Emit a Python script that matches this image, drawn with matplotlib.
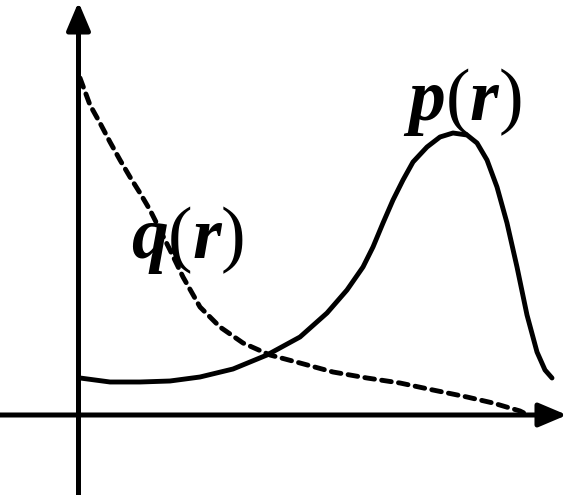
import matplotlib
matplotlib.use("Agg")
import matplotlib.pyplot as plt

plt.rcParams['mathtext.fontset'] = 'custom'
plt.rcParams['mathtext.it'] = 'Liberation Serif:italic:bold'
plt.rcParams['mathtext.rm'] = 'Liberation Serif'

# curve points (pixel coordinates, y downwards)
p_x = [80, 110, 140, 170, 200, 233, 267, 300, 327, 347, 363, 373, 383, 393,
       403, 413, 427, 440, 453, 467, 477, 487, 497, 507, 517, 527, 537, 545, 552]
p_y = [378, 382, 382, 381, 377, 369, 355, 337, 313, 290, 267, 247, 223, 200,
       180, 162, 147, 137, 133, 135, 143, 160, 187, 223, 267, 315, 352, 370, 378]

q_x = [80, 90, 100, 110, 120, 130, 140, 150, 160, 170, 183, 200, 220, 243,
       270, 300, 333, 367, 400, 433, 467, 493, 520, 530]
q_y = [78, 105, 123, 142, 160, 177, 193, 210, 230, 250, 277, 307, 327, 343,
       355, 363, 372, 378, 383, 390, 397, 403, 411, 416]

labels = [r'$p(r)$', r'$q(r)$']
label_pos = [(462, 102), (188, 240)]

fig = plt.figure(figsize=(5.7, 4.95), dpi=100)
ax = fig.add_axes([0, 0, 1, 1])
ax.set_xlim(0, 570)
ax.set_ylim(495, 0)
ax.axis('off')

# axes with arrow heads
head = '-|>,head_length=0.85,head_width=0.36'
ax.annotate('', xy=(567, 415), xytext=(0, 415),
            arrowprops=dict(arrowstyle=head, mutation_scale=20, lw=3.6,
                            color='black', shrinkA=0, shrinkB=0))
ax.annotate('', xy=(78.5, 2), xytext=(78.5, 495),
            arrowprops=dict(arrowstyle=head, mutation_scale=20, lw=3.6,
                            color='black', shrinkA=0, shrinkB=0))

ax.plot(p_x, p_y, color='black', lw=3.5, solid_capstyle='round',
        solid_joinstyle='round')
ax.plot(q_x, q_y, color='black', lw=3.5, linestyle=(0, (2.0, 1.5)),
        dash_capstyle='round', dash_joinstyle='round')

for lab, (x, y) in zip(labels, label_pos):
    ax.text(x, y, lab, fontsize=53, ha='center', va='center')

fig.savefig('out.png', dpi=100)
